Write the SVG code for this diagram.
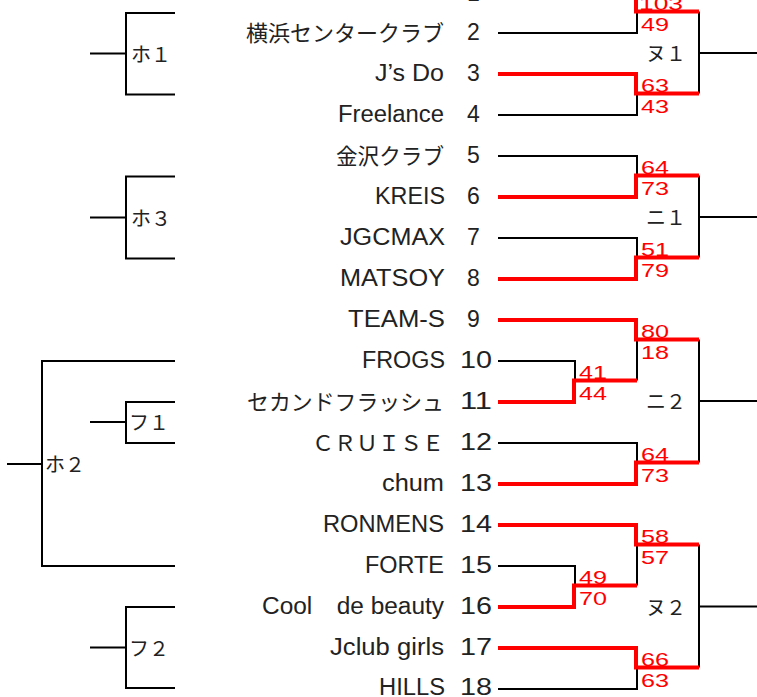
<svg xmlns="http://www.w3.org/2000/svg" width="757" height="697" viewBox="0 0 757 697">
<style>
.ln{fill:none;stroke:#000;stroke-width:2}
.win{fill:none;stroke:#f00;stroke-width:4;stroke-linejoin:miter}
.nm{font-family:"Liberation Sans","Noto Sans CJK JP",sans-serif;font-size:23px;text-anchor:end;fill:#222}
.jp{font-family:"Noto Sans CJK JP",sans-serif;font-size:22px;text-anchor:end;fill:#222}
.no{font-family:"Liberation Sans",sans-serif;font-size:23px;fill:#222}
.sc{font-family:"Liberation Sans",sans-serif;font-size:19px;fill:#f00}
.lb{font-family:"Noto Sans CJK JP",sans-serif;font-size:20px;fill:#222}
</style>
<rect width="757" height="697" fill="#fff"/>
<g id="connectors">
<path class="ln" d="M498,33H637V11.5M498,115H637V93.5M498,156H637V175.5M498,238H637V257.5M498,361H575V380.5M637,380.5V339.5M498,443H637V462.5M498,566H575V585.5M637,585.5V544.5M498,689H637V667.5"/>
<path class="ln" d="M699,11.5V93.5M699,53H757M699,175.5V257.5M699,217H757M699,339.5V462.5M699,401H757M699,544.5V667.5M699,606.5H757"/>
<path class="ln" d="M175,13H126V94.5H175M90,53.5H126M175,176.5H126V258.5H175M90,217.5H126M175,361H42V566H175M7,464H42M175,402H126V443H175M90,422H126M175,607H126V688H175M90,647.5H126"/>
<path class="win" d="M498,-8H636V11.5H699M498,74H636V93.5H699M498,197H636V175.5H699M498,279H636V257.5H699M498,320H636V339.5H699M498,402H574V380.5H637M498,484H636V462.5H699M498,525H636V544.5H699M498,607H574V585.5H637M498,648H636V667.5H699"/>
</g>
<g id="team1"><text class="no" x="467" y="1">1</text></g>
<g id="team2"><text class="jp" x="444" y="41" textLength="198" lengthAdjust="spacingAndGlyphs">横浜センタークラブ</text><text class="no" x="467" y="40">2</text></g>
<g id="team3"><text class="nm" x="444" y="81" textLength="69" lengthAdjust="spacingAndGlyphs">J’s Do</text><text class="no" x="467" y="81">3</text></g>
<g id="team4"><text class="nm" x="444" y="122" textLength="106" lengthAdjust="spacingAndGlyphs">Freelance</text><text class="no" x="467" y="122">4</text></g>
<g id="team5"><text class="jp" x="444" y="164" textLength="108" lengthAdjust="spacingAndGlyphs">金沢クラブ</text><text class="no" x="467" y="163">5</text></g>
<g id="team6"><text class="nm" x="445" y="204" textLength="70" lengthAdjust="spacingAndGlyphs">KREIS</text><text class="no" x="467" y="204">6</text></g>
<g id="team7"><text class="nm" x="445" y="245" textLength="105" lengthAdjust="spacingAndGlyphs">JGCMAX</text><text class="no" x="467" y="245">7</text></g>
<g id="team8"><text class="nm" x="445" y="286" textLength="105" lengthAdjust="spacingAndGlyphs">MATSOY</text><text class="no" x="467" y="286">8</text></g>
<g id="team9"><text class="nm" x="445" y="327" textLength="97" lengthAdjust="spacingAndGlyphs">TEAM-S</text><text class="no" x="467" y="327">9</text></g>
<g id="team10"><text class="nm" x="445" y="368" textLength="83" lengthAdjust="spacingAndGlyphs">FROGS</text><text class="no" x="460" y="368" textLength="32" lengthAdjust="spacingAndGlyphs">10</text></g>
<g id="team11"><text class="jp" x="444" y="410" textLength="197" lengthAdjust="spacingAndGlyphs">セカンドフラッシュ</text><text class="no" x="460" y="409" textLength="32" lengthAdjust="spacingAndGlyphs">11</text></g>
<g id="team12"><text class="jp" x="444" y="451" textLength="132" lengthAdjust="spacingAndGlyphs">ＣＲＵＩＳＥ</text><text class="no" x="460" y="450" textLength="32" lengthAdjust="spacingAndGlyphs">12</text></g>
<g id="team13"><text class="nm" x="444" y="491" textLength="62" lengthAdjust="spacingAndGlyphs">chum</text><text class="no" x="460" y="491" textLength="32" lengthAdjust="spacingAndGlyphs">13</text></g>
<g id="team14"><text class="nm" x="444" y="532" textLength="121" lengthAdjust="spacingAndGlyphs">RONMENS</text><text class="no" x="460" y="532" textLength="32" lengthAdjust="spacingAndGlyphs">14</text></g>
<g id="team15"><text class="nm" x="444" y="573" textLength="79" lengthAdjust="spacingAndGlyphs">FORTE</text><text class="no" x="460" y="573" textLength="32" lengthAdjust="spacingAndGlyphs">15</text></g>
<g id="team16"><text class="nm" x="444" y="614" textLength="182" lengthAdjust="spacingAndGlyphs">Cool　de beauty</text><text class="no" x="460" y="614" textLength="32" lengthAdjust="spacingAndGlyphs">16</text></g>
<g id="team17"><text class="nm" x="444" y="655" textLength="114" lengthAdjust="spacingAndGlyphs">Jclub girls</text><text class="no" x="460" y="655" textLength="32" lengthAdjust="spacingAndGlyphs">17</text></g>
<g id="team18"><text class="nm" x="445" y="695" textLength="66" lengthAdjust="spacingAndGlyphs">HILLS</text><text class="no" x="460" y="695" textLength="32" lengthAdjust="spacingAndGlyphs">18</text></g>
<g id="match-nu1"><text class="lb" x="646" y="61">ヌ１</text><text class="sc" x="639" y="10" textLength="44" lengthAdjust="spacingAndGlyphs">103</text><text class="sc" x="641" y="31" textLength="28" lengthAdjust="spacingAndGlyphs">49</text><text class="sc" x="641" y="92" textLength="28" lengthAdjust="spacingAndGlyphs">63</text><text class="sc" x="641" y="113" textLength="28" lengthAdjust="spacingAndGlyphs">43</text></g>
<g id="match-ni1"><text class="lb" x="646" y="225">ニ１</text><text class="sc" x="641" y="174" textLength="28" lengthAdjust="spacingAndGlyphs">64</text><text class="sc" x="641" y="195" textLength="28" lengthAdjust="spacingAndGlyphs">73</text><text class="sc" x="641" y="256" textLength="28" lengthAdjust="spacingAndGlyphs">51</text><text class="sc" x="641" y="277" textLength="28" lengthAdjust="spacingAndGlyphs">79</text></g>
<g id="match-ni2"><text class="lb" x="646" y="409">ニ２</text><text class="sc" x="641" y="338" textLength="28" lengthAdjust="spacingAndGlyphs">80</text><text class="sc" x="641" y="359" textLength="28" lengthAdjust="spacingAndGlyphs">18</text><text class="sc" x="579" y="379" textLength="28" lengthAdjust="spacingAndGlyphs">41</text><text class="sc" x="579" y="400" textLength="28" lengthAdjust="spacingAndGlyphs">44</text><text class="sc" x="641" y="461" textLength="28" lengthAdjust="spacingAndGlyphs">64</text><text class="sc" x="641" y="482" textLength="28" lengthAdjust="spacingAndGlyphs">73</text></g>
<g id="match-nu2"><text class="lb" x="646" y="615">ヌ２</text><text class="sc" x="641" y="543" textLength="28" lengthAdjust="spacingAndGlyphs">58</text><text class="sc" x="641" y="564" textLength="28" lengthAdjust="spacingAndGlyphs">57</text><text class="sc" x="579" y="584" textLength="28" lengthAdjust="spacingAndGlyphs">49</text><text class="sc" x="579" y="605" textLength="28" lengthAdjust="spacingAndGlyphs">70</text><text class="sc" x="641" y="666" textLength="28" lengthAdjust="spacingAndGlyphs">66</text><text class="sc" x="641" y="687" textLength="28" lengthAdjust="spacingAndGlyphs">63</text></g>
<g id="match-ho1"><text class="lb" x="131" y="62">ホ１</text></g>
<g id="match-ho3"><text class="lb" x="131" y="226">ホ３</text></g>
<g id="match-ho2"><text class="lb" x="45" y="472">ホ２</text></g>
<g id="match-fu1"><text class="lb" x="129" y="430">フ１</text></g>
<g id="match-fu2"><text class="lb" x="129" y="656">フ２</text></g>
</svg>
